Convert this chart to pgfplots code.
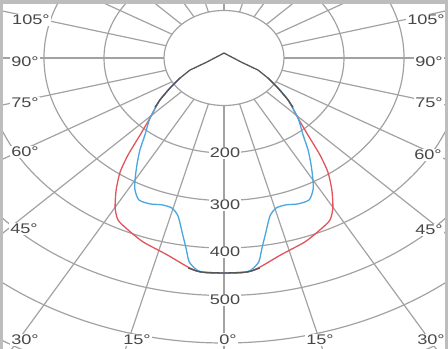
\documentclass[border=0pt]{standalone}
\usepackage{pgfplots}
\pgfplotsset{compat=1.18}
\usepackage{pgfplotstable}
\usepackage{graphicx}
\usepackage{fontspec}
\setmainfont{Liberation Sans}

\definecolor{gridc}{HTML}{A2A2A2}
\definecolor{txt}{HTML}{484848}
\definecolor{redc}{HTML}{E2545C}
\definecolor{bluec}{HTML}{4AA6E0}
\definecolor{darkc}{HTML}{555555}
\definecolor{framec}{HTML}{BDBDBD}

% gamma (deg, negative = left half), intensity I (cd)
\pgfplotstableread{
g I
-60.1 84.5
-54.9 110
-50.4 138.6
-44.3 176.5
-40.8 214
-38.1 259
-35.8 296
-32.9 331
-29.9 364
-27.4 384
-24.2 394.6
-19.2 410
-12.9 425
-8.06 443
-5.07 452
0 452.6
5.07 452
8.06 443
12.9 425
19.2 410
24.2 394.6
27.4 384
29.9 364
32.9 331
35.8 296
38.1 259
40.8 214
44.3 176.5
50.4 138.6
54.9 110
60.1 84.5
}\redtab

\pgfplotstableread{
g I
-60.1 84.5
-54.9 110
-50.4 138.6
-44.3 176.5
-39.1 209
-35.9 239
-32.8 268
-30.0 296.6
-28.1 315
-25.4 330.8
-21.9 331
-18.5 326
-15.4 327.5
-13.0 341
-10.8 373
-9.0 405
-7.7 433
-5.76 448.6
-3.6 453.5
0 452.6
3.6 453.5
5.76 448.6
7.7 433
9.0 405
10.8 373
13.0 341
15.4 327.5
18.5 326
21.9 331
25.4 330.8
28.1 315
30.0 296.6
32.8 268
35.9 239
39.1 209
44.3 176.5
50.4 138.6
54.9 110
60.1 84.5
}\bluetab

\pgfplotstableread{
g I
-48.0 155
-50.4 138.6
-54.9 110
-60.1 84.5
-65.9 62
-73.5 29.5
180 10.5
73.5 29.5
65.9 62
60.1 84.5
54.9 110
50.4 138.6
48.0 155
}\toptab

\pgfplotstableread{
g I
-7.7 446
-5.07 452
0 452.6
5.07 452
7.7 446
}\bottab

\newcommand\lbl[1]{\scalebox{1.3}[1]{#1}}
\tikzset{lab/.style={font=\fontsize{14}{16}\selectfont, text=txt, fill=white, inner sep=1.2pt}}

\begin{document}
\begin{tikzpicture}
\begin{axis}[
  scale only axis, width=448bp, height=349bp,
  xmin=-373.33, xmax=373.33, ymin=-612.63, ymax=122.11,
  hide axis, clip=true,
]
% rings
\foreach \r in {200,300,400,500,600,700}{
  \edef\tmp{\noexpand\draw[gridc, line width=1.2bp] (axis cs:0,0) ellipse [x radius=\r, y radius=\r];}
  \tmp
}
% spokes
\pgfplotsinvokeforeach{0,15,...,345}{
  \draw[gridc, line width=1.2bp] (axis cs:{100*sin(#1)},{-100*cos(#1)}) -- (axis cs:{900*sin(#1)},{-900*cos(#1)});
}
\draw[gridc, line width=1.2bp, fill=white] (axis cs:0,0) ellipse [x radius=100, y radius=100];

% curves
\addplot[redc, line width=1.3bp, smooth, tension=0.4] table[x expr={\thisrow{I}*sin(\thisrow{g})}, y expr={-\thisrow{I}*cos(\thisrow{g})}] {\redtab};
\addplot[bluec, line width=1.3bp, smooth, tension=0.4] table[x expr={\thisrow{I}*sin(\thisrow{g})}, y expr={-\thisrow{I}*cos(\thisrow{g})}] {\bluetab};
\addplot[darkc, line width=1.3bp] table[x expr={\thisrow{I}*sin(\thisrow{g})}, y expr={-\thisrow{I}*cos(\thisrow{g})}] {\toptab};
\addplot[darkc, line width=1.3bp, smooth, tension=0.4] table[x expr={\thisrow{I}*sin(\thisrow{g})}, y expr={-\thisrow{I}*cos(\thisrow{g})}] {\bottab};

% radial values
\node[lab] at (rel axis cs:0.5022,0.5616) {\lbl{200}};
\node[lab] at (rel axis cs:0.5022,0.4126) {\lbl{300}};
\node[lab] at (rel axis cs:0.5022,0.2779) {\lbl{400}};
\node[lab] at (rel axis cs:0.5022,0.1404) {\lbl{500}};

% angle labels, left
\node[lab] at (rel axis cs:0.0692,0.9427) {\lbl{105°}};
\node[lab] at (rel axis cs:0.0558,0.8223) {\lbl{90°}};
\node[lab] at (rel axis cs:0.0558,0.7049) {\lbl{75°}};
\node[lab] at (rel axis cs:0.0558,0.5645) {\lbl{60°}};
\node[lab] at (rel axis cs:0.0536,0.3438) {\lbl{45°}};
% right
\node[lab] at (rel axis cs:0.9509,0.9427) {\lbl{105°}};
\node[lab] at (rel axis cs:0.9576,0.8223) {\lbl{90°}};
\node[lab] at (rel axis cs:0.9576,0.7049) {\lbl{75°}};
\node[lab] at (rel axis cs:0.9554,0.5559) {\lbl{60°}};
\node[lab] at (rel axis cs:0.9576,0.3410) {\lbl{45°}};
% bottom
\node[lab] at (rel axis cs:0.0558,0.0255) {\lbl{30°}};
\node[lab] at (rel axis cs:0.3058,0.0255) {\lbl{15°}};
\node[lab] at (rel axis cs:0.5089,0.0270) {\lbl{0°}};
\node[lab] at (rel axis cs:0.7143,0.0255) {\lbl{15°}};
\node[lab] at (rel axis cs:0.9621,0.0255) {\lbl{30°}};

% frame
\fill[framec] (rel axis cs:0,1) rectangle (rel axis cs:1,0.9885);
\draw[framec, line width=2.5bp] (rel axis cs:0.0033,0) -- (rel axis cs:0.0033,1);
\draw[framec, line width=2.5bp] (rel axis cs:0.9967,0) -- (rel axis cs:0.9967,1);
\end{axis}
\pgfresetboundingbox
\path (current axis.south west) rectangle (current axis.north east);
\end{tikzpicture}
\end{document}
